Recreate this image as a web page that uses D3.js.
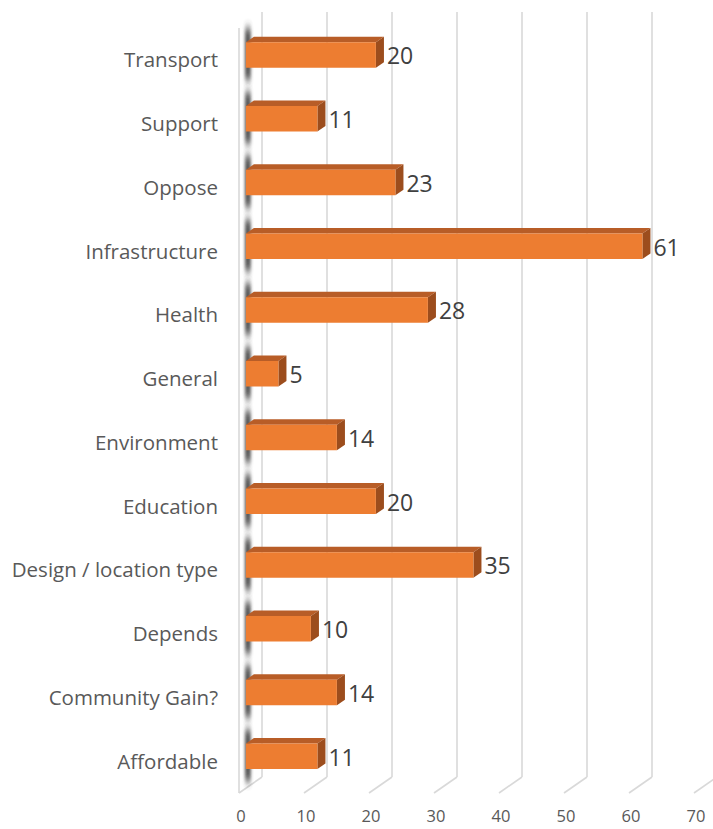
<!DOCTYPE html>
<html>
<head>
<meta charset="utf-8">
<script src="https://cdn.jsdelivr.net/npm/d3@7"></script>
<style>
  html, body { margin: 0; padding: 0; background: #fff; }
  svg { display: block; }
</style>
</head>
<body>
<svg id="chart" width="713" height="829"></svg>
<script>
// Category list, top to bottom
const categories = [
  "Transport", "Support", "Oppose", "Infrastructure", "Health", "General",
  "Environment", "Education", "Design / location type", "Depends",
  "Community Gain?", "Affordable"
];
// Number of responses per category
const counts = [20, 11, 23, 61, 28, 5, 14, 20, 35, 10, 14, 11];
// Axis ticks
const tickValues = [0, 10, 20, 30, 40, 50, 60, 70];

const fontFamily = "'Open Sans', 'Liberation Sans', sans-serif";
const svg = d3.select("#chart");

// Back wall of the 3-D box
const backTop = 12, backBottom = 777;
// Offset from the back plane to the front plane (depth vector)
const depthDX = -23, depthDY = 16;

const x = d3.scaleLinear().domain([0, 70]).range([262, 717]);
const y = d3.scaleBand().domain(categories).range([backTop, backBottom]).paddingInner(0.6).paddingOuter(0.3);
const yCenter = d3.scaleBand().domain(categories).range([backTop, backBottom]);

// Point at value v, back-plane y, depth fraction t (0 = back, 1 = front)
function pt(v, yy, t) {
  return [x(v) + depthDX * t, yy + depthDY * t];
}

const defs = svg.append("defs");
defs.append("filter").attr("id", "blur").attr("x", "-100%").attr("y", "-50%").attr("width", "300%").attr("height", "200%")
  .append("feGaussianBlur").attr("stdDeviation", "1.8 5");

const grid = svg.append("g").attr("stroke", "#d9d9d9").attr("stroke-width", 1.6).attr("fill", "none");

// Vertical gridlines on the back wall
grid.selectAll("line.back").data(tickValues.slice(0, -1)).join("line")
  .attr("class", "back")
  .attr("x1", d => x(d)).attr("x2", d => x(d))
  .attr("y1", backTop).attr("y2", backBottom);

// Floor gridlines running from back to front
grid.selectAll("line.floor").data(tickValues).join("line")
  .attr("class", "floor")
  .attr("x1", d => x(d)).attr("y1", backBottom)
  .attr("x2", d => x(d) + depthDX).attr("y2", backBottom + depthDY);

// Front edge of the left wall
grid.append("line")
  .attr("x1", x(0) + depthDX).attr("x2", x(0) + depthDX)
  .attr("y1", backTop + depthDY).attr("y2", backBottom + depthDY);

// Bar geometry: depth fractions of the bar's back and front faces
const tBack = 0.35, tFront = 0.7;
const bh = y.bandwidth();

const bars = svg.append("g");
categories.forEach((c, i) => {
  const v = counts[i];
  const y0 = y(c);
  const g = bars.append("g");

  // Shadow cast onto the left wall
  const [sx, sy] = pt(0, y0, tFront);
  g.append("rect")
    .attr("x", sx - 1).attr("y", sy - 14)
    .attr("width", 6).attr("height", bh + 26)
    .attr("fill", "#3a3a3a").attr("opacity", 0.85)
    .attr("filter", "url(#blur)");

  const fTL = pt(0, y0, tFront), fTR = pt(v, y0, tFront);
  const fBR = pt(v, y0 + bh, tFront), fBL = pt(0, y0 + bh, tFront);
  const bTL = pt(0, y0, tBack), bTR = pt(v, y0, tBack), bBR = pt(v, y0 + bh, tBack);

  // Top face
  g.append("path")
    .attr("d", d3.line()([fTL, bTL, bTR, fTR]) + "Z")
    .attr("fill", "#b85d27");
  // Right end face
  g.append("path")
    .attr("d", d3.line()([fTR, bTR, bBR, fBR]) + "Z")
    .attr("fill", "#9c4d1d");
  // Front face
  g.append("path")
    .attr("d", d3.line()([fTL, fTR, fBR, fBL]) + "Z")
    .attr("fill", "#ed7d31");

  // Value label
  g.append("text")
    .attr("x", fTR[0] + 11)
    .attr("y", fTL[1] + bh / 2 + 1)
    .attr("dy", "0.36em")
    .attr("font-family", fontFamily)
    .attr("font-size", 23)
    .attr("fill", "#404040")
    .text(v);
});

// Category labels, aligned on the front plane
svg.append("g").selectAll("text").data(categories).join("text")
  .attr("x", 218)
  .attr("y", d => yCenter(d) + yCenter.bandwidth() / 2 + depthDY)
  .attr("dy", "0.36em")
  .attr("text-anchor", "end")
  .attr("font-family", fontFamily)
  .attr("font-size", 20.5)
  .attr("fill", "#595959")
  .text(d => d);

// Value axis tick labels below the floor
svg.append("g").selectAll("text").data(tickValues).join("text")
  .attr("x", d => x(d) + depthDX + 2)
  .attr("y", 816)
  .attr("dy", "0.36em")
  .attr("text-anchor", "middle")
  .attr("font-family", fontFamily)
  .attr("font-size", 16.5)
  .attr("fill", "#595959")
  .text(d => d);
</script>
</body>
</html>
